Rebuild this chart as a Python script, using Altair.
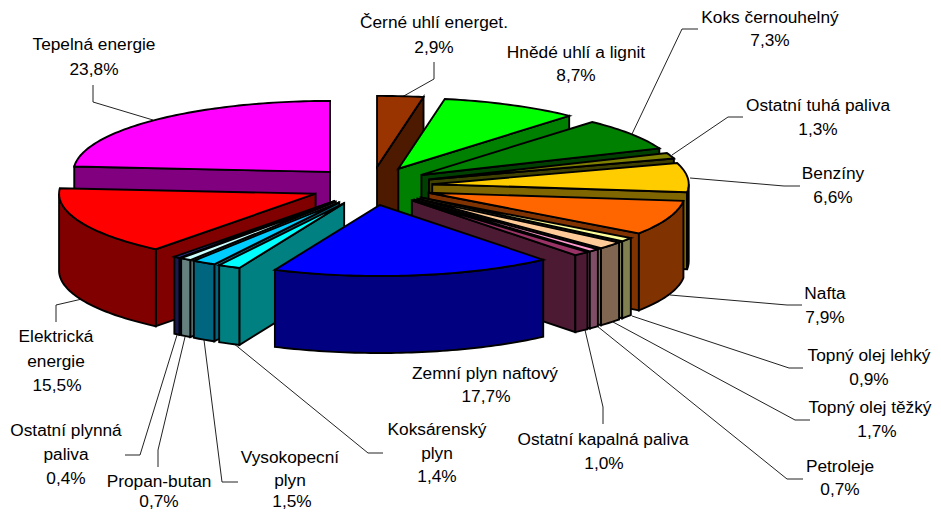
import math
import altair as alt

# --- data (clockwise from 12 o'clock) ---
names = ["Černé uhlí energet.", "Hnědé uhlí a lignit", "Koks černouhelný", "Ostatní tuhá paliva",
         "Benzíny", "Nafta", "Topný olej lehký", "Topný olej těžký", "Petroleje",
         "Ostatní kapalná paliva", "Zemní plyn naftový", "Koksárenský plyn", "Vysokopecní plyn",
         "Propan-butan", "Ostatní plynná paliva", "Elektrická energie", "Tepelná energie"]
shares = [2.9, 8.7, 7.3, 1.3, 6.6, 7.9, 0.9, 1.7, 0.7, 1.0, 17.7, 1.4, 1.5, 0.7, 0.4, 15.5, 23.8]
top_colors = ["#993300", "#00FF00", "#008000", "#808000", "#FFCC00", "#FF6600", "#FFFF99", "#FFCC99",
              "#FF99CC", "#993366", "#0000FF", "#00FFFF", "#00CCFF", "#CCFFFF", "#333399", "#FF0000", "#FF00FF"]
side_colors = ["#4D1A00", "#008000", "#004000", "#404000", "#806600", "#803300", "#808050", "#806650",
               "#804D66", "#4D1A33", "#000080", "#008080", "#006680", "#668080", "#1A1A4D", "#800000", "#800080"]

# --- label layout ---
label_lines = [
    ("Černé uhlí energet.", 434, 23), ("2,9%", 434, 48),
    ("Hnědé uhlí a lignit", 576, 53), ("8,7%", 576, 76),
    ("Koks černouhelný", 770, 18), ("7,3%", 770, 41),
    ("Ostatní tuhá paliva", 818, 106), ("1,3%", 818, 130),
    ("Benzíny", 833, 174), ("6,6%", 833, 198),
    ("Nafta", 825, 294), ("7,9%", 825, 318),
    ("Topný olej lehký", 869, 356), ("0,9%", 869, 380),
    ("Topný olej těžký", 870, 408), ("1,7%", 877, 432),
    ("Petroleje", 840, 467), ("0,7%", 840, 490),
    ("Ostatní kapalná paliva", 603, 440), ("1,0%", 604, 464),
    ("Zemní plyn naftový", 485, 374), ("17,7%", 486, 397),
    ("Koksárenský", 437, 430), ("plyn", 437, 454), ("1,4%", 437, 477),
    ("Vysokopecní", 290, 458), ("plyn", 290, 481), ("1,5%", 292, 502),
    ("Propan-butan", 159, 482), ("0,7%", 159, 502),
    ("Ostatní plynná", 66, 431), ("paliva", 66, 455), ("0,4%", 66, 479),
    ("Elektrická", 56, 337), ("energie", 56, 362), ("15,5%", 57, 386),
    ("Tepelná energie", 94, 45), ("23,8%", 94, 70),
]
leaders = [
    [(434, 62), (434, 79), (402, 97)],
    [(698, 29), (682, 29), (632, 134)],
    [(743, 117), (728, 117), (672, 155)],
    [(800, 186), (784, 186), (690, 178)],
    [(802, 305), (787, 305), (670, 295)],
    [(803, 368), (789, 368), (632, 316)],
    [(810, 420), (795, 420), (613, 322)],
    [(803, 479), (787, 479), (597, 326)],
    [(603, 424), (603, 407), (585, 330)],
    [(383, 453), (368, 453), (233, 343)],
    [(238, 482), (222, 482), (204, 340)],
    [(158, 467), (158, 450), (185, 337)],
    [(125, 455), (140, 455), (177, 335)],
    [(56, 322), (56, 305), (82, 299)],
    [(93, 85), (93, 102), (153, 120)],
]

# --- 3D exploded pie geometry, computed from the shares ---
CX, CY = 371.5, 186.0
RX, RY = 256.5, 71.0
EX, EY = 61.0, 19.2
DEPTH = 77.0


def rad(pct):
    return pct / sum(shares) * 2 * math.pi


def arc(ox, oy, a0, a1, drop=0.0):
    n = max(2, int(abs(a1 - a0) / 0.02) + 1)
    return [(ox + RX * math.sin(a0 + (a1 - a0) * i / (n - 1)),
             oy - RY * math.cos(a0 + (a1 - a0) * i / (n - 1)) + drop) for i in range(n)]


def poly(pts, fill):
    ring = [list(p) for p in pts] + [list(pts[0])]
    return {"type": "Feature", "geometry": {"type": "Polygon", "coordinates": [ring]},
            "properties": {"fill": fill}}


slices = []
cum = 0.0
for i, s in enumerate(shares):
    a0, a1 = rad(cum), rad(cum + s)
    cum += s
    mid = (a0 + a1) / 2
    ox, oy = CX + EX * math.sin(mid), CY - EY * math.cos(mid)
    slices.append((oy, i, a0, a1, ox))

features = []
for oy, i, a0, a1, ox in sorted(slices):
    top, side = top_colors[i], side_colors[i]
    for ang, visible in ((a0, math.sin(a0) < 0), (a1, math.sin(a1) > 0)):
        if visible:
            px, py = ox + RX * math.sin(ang), oy - RY * math.cos(ang)
            features.append(poly([(ox, oy), (px, py), (px, py + DEPTH), (ox, oy + DEPTH)], side))
    r0, r1 = max(a0, math.pi / 2), min(a1, 3 * math.pi / 2)
    if r1 > r0:
        features.append(poly(arc(ox, oy, r0, r1) + arc(ox, oy, r1, r0, DEPTH), side))
    features.append(poly([(ox, oy)] + arc(ox, oy, a0, a1), top))

leader_features = [{"type": "Feature", "geometry": {"type": "LineString", "coordinates": [list(p) for p in l]},
                    "properties": {}} for l in leaders]

proj = dict(type="identity", scale=1, translate=[-8, -8])

slices_layer = alt.Chart(alt.InlineData(values={"type": "FeatureCollection", "features": features},
                                        format=alt.DataFormat(type="json", property="features"))).mark_geoshape(
    stroke="black", strokeWidth=1.9, strokeJoin="miter"
).encode(fill=alt.Fill("properties.fill:N", scale=None)).project(**proj)

leader_layer = alt.Chart(alt.InlineData(values={"type": "FeatureCollection", "features": leader_features},
                                        format=alt.DataFormat(type="json", property="features"))).mark_geoshape(
    filled=False, stroke="#222222", strokeWidth=1
).project(**proj)

text_layer = alt.Chart(alt.Data(values=[{"t": t, "lon": x, "lat": y} for t, x, y in label_lines])).mark_text(
    font="Liberation Sans", fontSize=17.3, color="black", align="center", baseline="middle"
).encode(longitude="lon:Q", latitude="lat:Q", text="t:N").project(**proj)

chart = alt.layer(leader_layer, slices_layer, text_layer).properties(
    width=925, height=503, padding=0, autosize=alt.AutoSizeParams(type="none"),
    background="white"
).configure_view(stroke=None)

chart.save("out.html", embed_options={"renderer": "svg", "actions": False})
